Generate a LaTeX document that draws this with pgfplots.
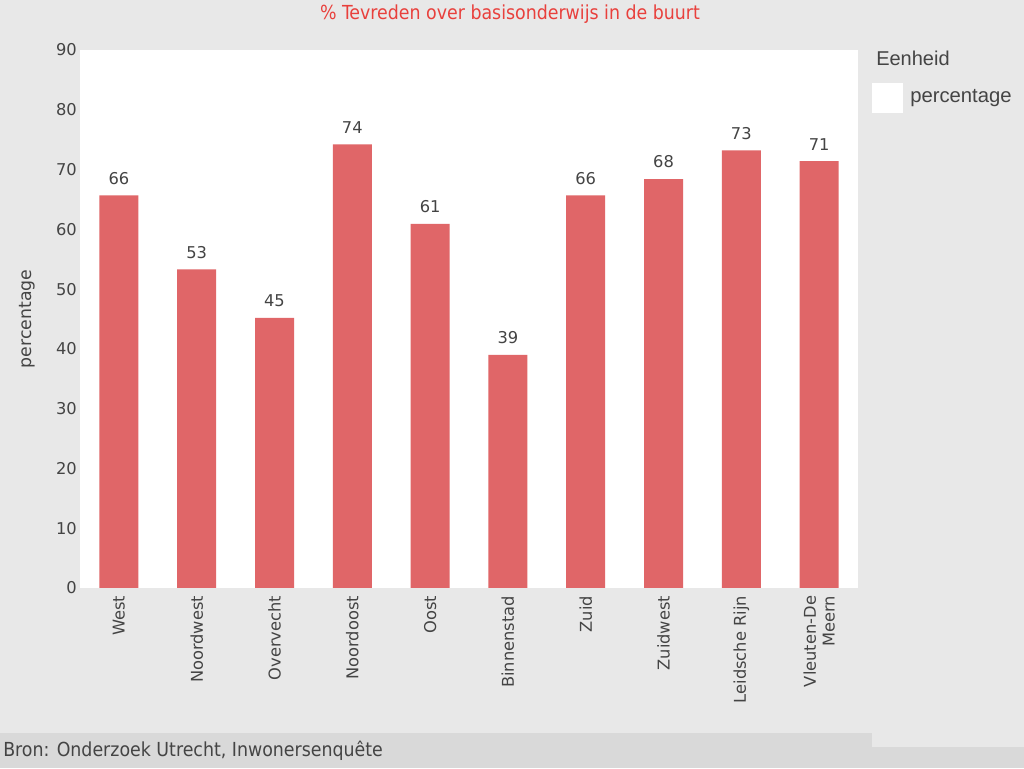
\documentclass[border=0pt]{standalone}
\usepackage{pgfplots}
\pgfplotsset{compat=1.18}
\usepackage{fontspec}
\setmainfont{DejaVu Sans}
\newfontfamily\condfont{DejaVu Sans Condensed}
\newfontfamily\arialfont{Liberation Sans}
\definecolor{bg}{HTML}{E8E8E8}
\definecolor{band}{HTML}{D9D9D9}
\definecolor{barc}{HTML}{E06668}
\definecolor{txt}{HTML}{444444}
\definecolor{titlec}{HTML}{E8403C}
\begin{document}
\begin{tikzpicture}
\fill[bg] (0,0) rectangle (768pt,-576pt);
\fill[band] (0,-549.75pt) rectangle (654pt,-576pt);
\fill[band] (654pt,-560.25pt) rectangle (768pt,-576pt);
\node[anchor=center,text=titlec,font=\condfont\fontsize{14.5}{16}\selectfont] at (382.5pt,-10.5pt) {\% Tevreden over basisonderwijs in de buurt};
\node[anchor=base west,inner sep=0pt,text=txt,font=\condfont\fontsize{14.5}{16}\selectfont] at (2.25pt,-567pt) {Bron: Onderzoek Utrecht, Inwonersenquête};
\node[anchor=west,inner sep=0pt,text=txt,font=\arialfont\fontsize{15}{18}\selectfont] at (657pt,-43.5pt) {Eenheid};
\fill[white] (654pt,-62.25pt) rectangle (677.25pt,-84.75pt);
\node[anchor=west,inner sep=0pt,text=txt,font=\arialfont\fontsize{15.2}{18}\selectfont] at (682.5pt,-73.5pt) {percentage};
\begin{axis}[
  at={(60pt,-37.5pt)}, anchor=north west,
  width=583.5pt, height=403.5pt, scale only axis,
  axis background/.style={fill=white},
  axis line style={draw=none},
  major tick style={draw=none},
  minor tick style={draw=none},
  ymin=0, ymax=90, ytick={0,10,...,90},
  xmin=-0.5, xmax=9.5,
  xtick={0,...,9},
  xticklabels={West,Noordwest,Overvecht,Noordoost,Oost,Binnenstad,Zuid,Zuidwest,Leidsche Rijn,{Vleuten-De\\Meern}},
  /pgf/number format/assume math mode=true,
  tick label style={font=\fontsize{12.2}{14}\selectfont, text=txt},
  yticklabel style={inner sep=0pt, anchor=east, xshift=-2.25pt},
  xticklabel style={rotate=90, anchor=east, inner xsep=1.5pt, inner ysep=0pt, align=right},
  ylabel={percentage},
  every axis y label/.style={at={(axis description cs:-0.068,0.5)}, rotate=90, anchor=center},
  ylabel style={font=\fontsize{13}{14}\selectfont, text=txt},
  ybar, bar width=29.25pt,
  nodes near coords,
  nodes near coords style={font=\fontsize{12.2}{13}\selectfont, text=txt, inner sep=0pt, yshift=8pt, /pgf/number format/fixed, /pgf/number format/precision=0},
]
\addplot[fill=barc, draw=none] coordinates {
(0,65.7) (1,53.3) (2,45.2) (3,74.2) (4,60.9) (5,39.0) (6,65.7) (7,68.4) (8,73.2) (9,71.4)
};
\end{axis}
\end{tikzpicture}
\end{document}
